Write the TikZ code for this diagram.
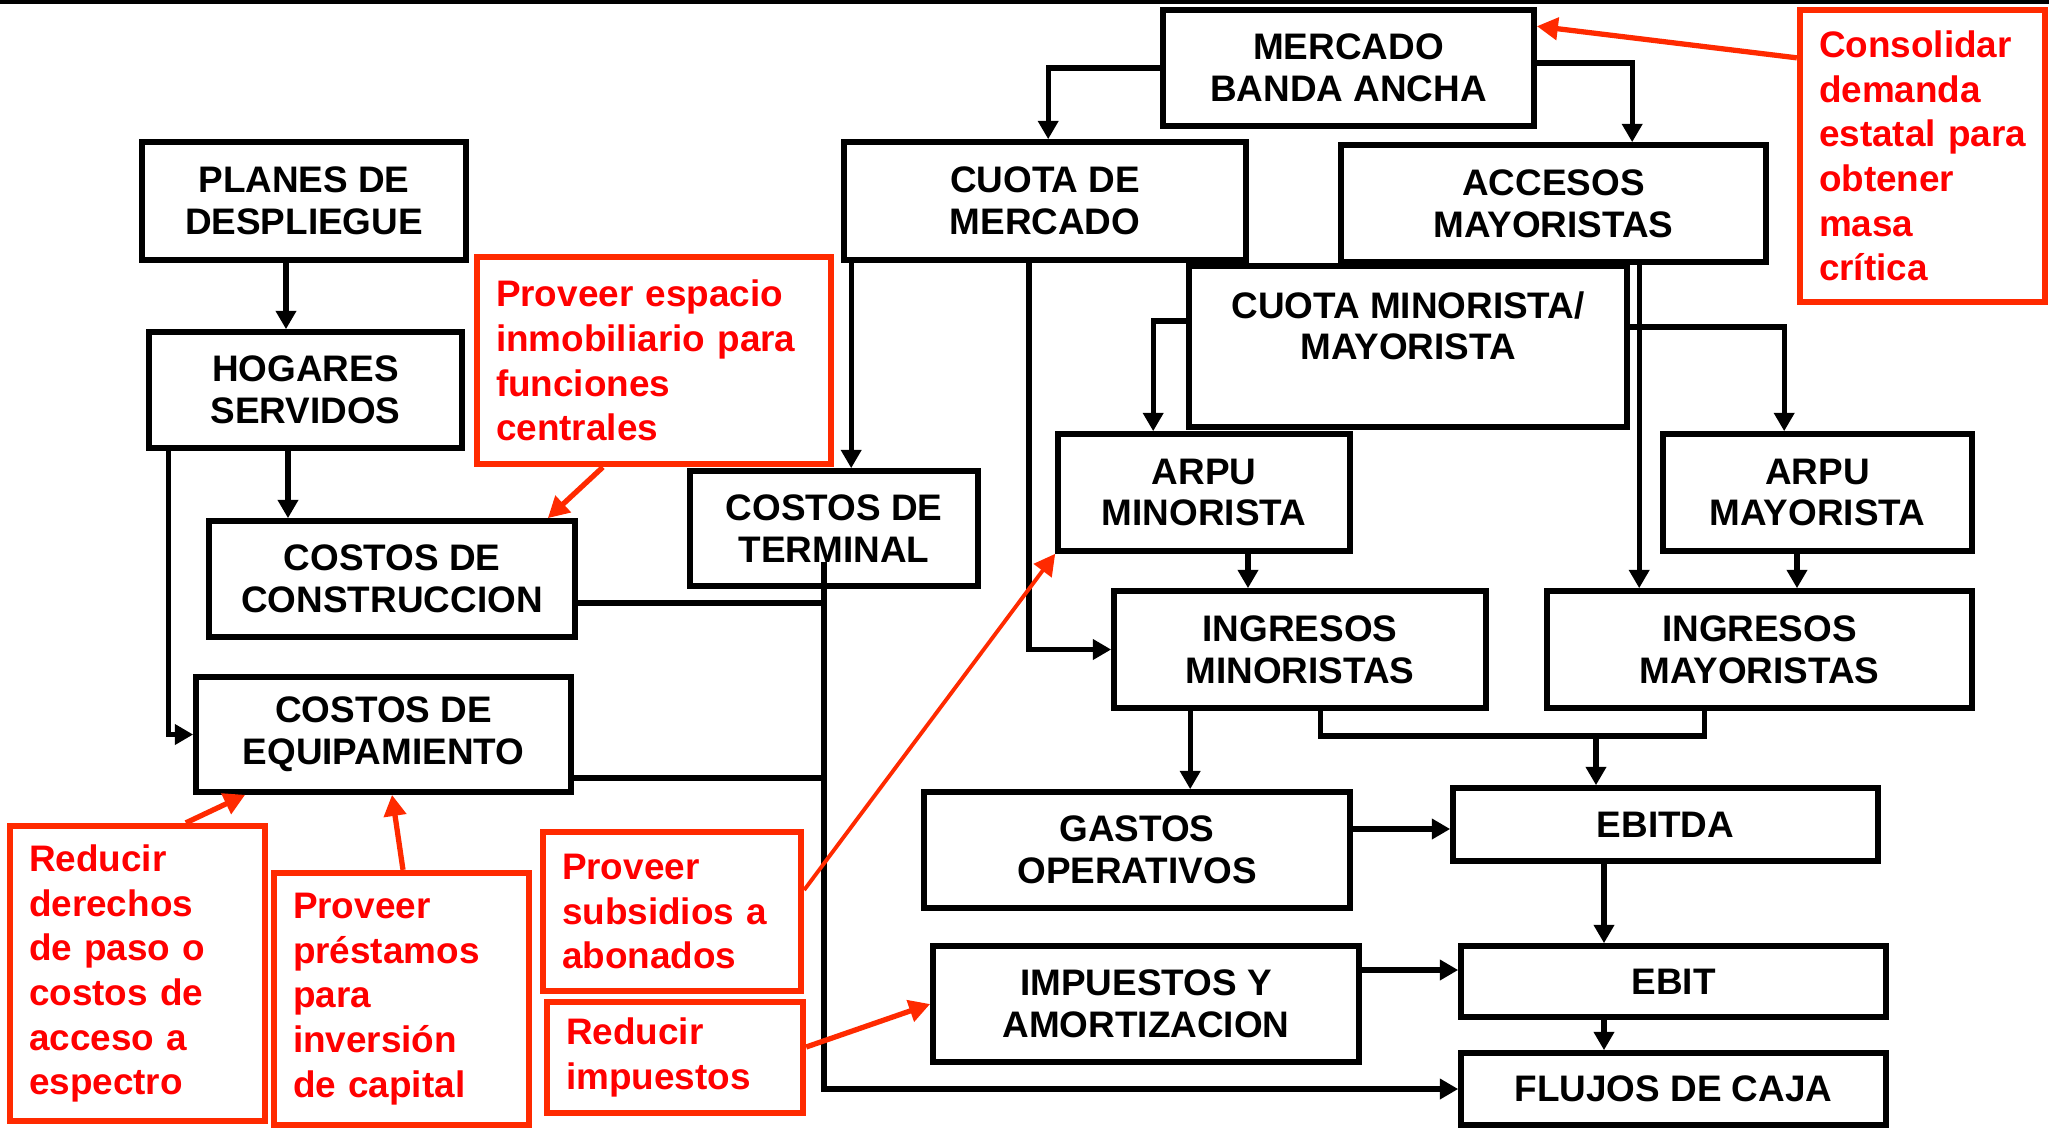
\documentclass[tikz,border=0pt]{standalone}
\usepackage{fontspec}
\setmainfont{Liberation Sans}
\usepackage{xcolor}
\definecolor{bbred}{HTML}{FF0000}
\definecolor{bbredline}{HTML}{FF2A00}
\usepackage{tikz}
\usetikzlibrary{arrows.meta, calc}

\begin{document}
\begin{tikzpicture}[
  box/.style={rectangle, draw=black, line width=1.6pt, align=center, inner sep=0pt,
    font=\fontsize{10.5}{11.9}\selectfont\bfseries},
  note/.style={rectangle, draw=bbredline, line width=1.8pt, align=left, inner xsep=0.19cm,
    font=\fontsize{10.5}{12.7}\selectfont\bfseries, text=bbred},
  link/.style={line width=1.45pt, -{Triangle[length=5.2pt, width=5.6pt]}},
  wire/.style={line width=1.45pt},
  hint/.style={draw=bbredline, line width=1.5pt, -{Triangle[length=6pt, width=6.2pt]}}
]
\useasboundingbox (0,0) rectangle (20.49,-11.28);
\fill[white] (0,0) rectangle (20.49,-11.28);
\draw[line width=1.2pt] (0,-0.02) -- (20.49,-0.02);

% bloques
\node[box, minimum width=3.24cm, minimum height=1.18cm] (planes) at (3.04,-2.01) {PLANES DE\\DESPLIEGUE};
\node[box, minimum width=3.13cm, minimum height=1.16cm] (hogares) at (3.055,-3.90) {HOGARES\\SERVIDOS};
\node[box, minimum width=3.66cm, minimum height=1.16cm] (constr) at (3.92,-5.79) {COSTOS DE\\CONSTRUCCION};
\node[box, minimum width=3.75cm, minimum height=1.15cm] (equip) at (3.835,-7.345) {COSTOS DE\\EQUIPAMIENTO};
\node[box, minimum width=4.02cm, minimum height=1.18cm] (cuotamerc) at (10.45,-2.01) {CUOTA DE\\MERCADO};
\node[box, minimum width=2.88cm, minimum height=1.15cm] (terminal) at (8.34,-5.285) {COSTOS DE\\TERMINAL};
\node[box, minimum width=3.71cm, minimum height=1.16cm] (mercado) at (13.485,-0.68) {MERCADO\\BANDA ANCHA};
\node[box, minimum width=4.25cm, minimum height=1.17cm] (accesos) at (15.535,-2.035) {ACCESOS\\MAYORISTAS};
\node[box, minimum width=4.38cm, minimum height=1.61cm] (cuotamin) at (14.08,-3.465) {CUOTA MINORISTA/\\MAYORISTA\\\mbox{}};
\node[box, minimum width=2.92cm, minimum height=1.17cm] (arpumin) at (12.04,-4.925) {ARPU\\MINORISTA};
\node[box, minimum width=3.09cm, minimum height=1.17cm] (arpumay) at (18.175,-4.925) {ARPU\\MAYORISTA};
\node[box, minimum width=3.72cm, minimum height=1.17cm] (ingmin) at (13.00,-6.495) {INGRESOS\\MINORISTAS};
\node[box, minimum width=4.25cm, minimum height=1.17cm] (ingmay) at (17.595,-6.495) {INGRESOS\\MAYORISTAS};
\node[box, minimum width=4.26cm, minimum height=1.16cm] (gastos) at (11.37,-8.50) {GASTOS\\OPERATIVOS};
\node[box, minimum width=4.25cm, minimum height=0.73cm] (ebitda) at (16.655,-8.245) {EBITDA};
\node[box, minimum width=4.26cm, minimum height=1.16cm] (impuestos) at (11.46,-10.04) {IMPUESTOS Y\\AMORTIZACION};
\node[box, minimum width=4.25cm, minimum height=0.71cm] (ebit) at (16.735,-9.815) {EBIT};
\node[box, minimum width=4.25cm, minimum height=0.72cm] (flujos) at (16.735,-10.89) {FLUJOS DE CAJA};

% medidas
\node[note, text width=2.07cm, minimum height=2.92cm] (consolidar) at (19.225,-1.56) {Consolidar\\demanda\\\mbox{estatal para}\\obtener\\masa\\crítica};
\node[note, text width=3.16cm, minimum height=2.07cm] (espacio) at (6.54,-3.605) {Proveer espacio\\\mbox{inmobiliario para}\\funciones\\centrales};
\node[note, text width=2.17cm, minimum height=2.95cm] (derechos) at (1.375,-9.735) {Reducir\\derechos\\\mbox{de paso o}\\\mbox{costos de}\\\mbox{acceso a}\\espectro};
\node[note, text width=2.17cm, minimum height=2.52cm] (prestamos) at (4.015,-9.99) {Proveer\\préstamos\\para\\inversión\\\mbox{de capital}};
\node[note, text width=2.20cm, minimum height=1.59cm] (subsidios) at (6.72,-9.115) {Proveer\\\mbox{subsidios a}\\abonados};
\node[note, text width=2.18cm, minimum height=1.11cm] (impred) at (6.75,-10.575) {Reducir\\impuestos};

% conexiones
\draw[link] (mercado.west) -| ($(cuotamerc.north west)+(2.07,0)$);
\draw[link] ([yshift=0.05cm]mercado.east) -| ($(accesos.north west)+(2.94,0)$);
\draw[link] ([xshift=-0.18cm]planes.south) coordinate (p1) -- (p1 |- hogares.north);
\draw[link] ([xshift=-0.175cm]hogares.south) coordinate (h1) -- (h1 |- constr.north);
\draw[link] ($(hogares.south west)+(0.22,0)$) |- (equip.west);
\draw[link] ($(cuotamerc.south west)+(0.10,0)$) coordinate (c1) -- (c1 |- terminal.north);
\draw[link] ($(terminal.center)+(-0.10,-0.335)$) coordinate (trunk) |- (flujos.west);
\draw[wire] ([yshift=-0.24cm]constr.east) coordinate (k1) -- (k1 -| trunk);
\draw[wire] ([yshift=-0.435cm]equip.east) coordinate (k2) -- (k2 -| trunk);
\draw[link] ([xshift=-0.16cm]cuotamerc.south) |- (ingmin.west);
\draw[link] ([yshift=0.255cm]cuotamin.west) -| ($(arpumin.north west)+(0.98,0)$);
\draw[link] ([yshift=0.195cm]cuotamin.east) -| ($(arpumay.north west)+(1.24,0)$);
\draw[link] ($(accesos.south west)+(3.01,0)$) coordinate (a2) -- (a2 |- ingmay.north);
\draw[link] ([xshift=0.44cm]arpumin.south) coordinate (r1) -- (r1 |- ingmin.north);
\draw[link] ([xshift=-0.205cm]arpumay.south) coordinate (r2) -- (r2 |- ingmay.north);
\draw[link] ($(ingmin.south west)+(0.79,0)$) coordinate (i1) -- (i1 |- gastos.north);
\coordinate (jn) at (15.96,-7.36);
\draw[wire] ($(ingmin.south west)+(2.09,0)$) |- (jn) -| ($(ingmay.south west)+(1.60,0)$);
\draw[link] (jn) -- (jn |- ebitda.north);
\draw[link] ([yshift=0.21cm]gastos.east) coordinate (g1) -- (g1 -| ebitda.west);
\draw[link] ([xshift=-0.615cm]ebitda.south) coordinate (e1) -- (e1 |- ebit.north);
\draw[link] ([yshift=0.34cm]impuestos.east) coordinate (t1) -- (t1 -| ebit.west);
\draw[link] ([xshift=-0.695cm]ebit.south) coordinate (e2) -- (e2 |- flujos.north);

% flechas rojas
\draw[hint] ($(consolidar.north west)+(0,-0.51)$) -- ($(mercado.north east)+(0,-0.19)$);
\draw[hint] ($(espacio.south west)+(1.29,0)$) -- ($(constr.north east)+(-0.30,0)$);
\draw[hint] ($(derechos.north west)+(1.79,0)$) -- ($(equip.south west)+(0.52,0)$);
\draw[hint] ([xshift=0.015cm]prestamos.north) -- ([xshift=0.085cm]equip.south);
\draw[hint, line width=1.1pt] ([yshift=0.215cm]subsidios.east) -- (arpumin.south west);
\draw[hint] ([yshift=0.105cm]impred.east) -- (impuestos.west);
\end{tikzpicture}
\end{document}
